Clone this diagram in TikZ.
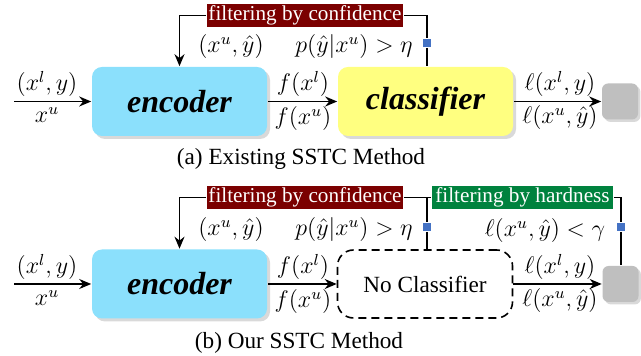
\documentclass[tikz,border=0pt]{standalone}
\usepackage{fontspec}
\setmainfont{Liberation Serif}
\usepackage{amsmath, amssymb}
\usepackage{tikz}
\usetikzlibrary{arrows.meta,calc,positioning,shadows}

\definecolor{encblue}{RGB}{139,224,252}
\definecolor{clsyellow}{RGB}{255,255,128}
\definecolor{tagred}{RGB}{123,0,0}
\definecolor{taggreen}{RGB}{0,130,62}
\definecolor{gateblue}{RGB}{68,114,196}
\definecolor{sinkgray}{RGB}{191,191,191}

\tikzset{
  block/.style={rounded corners=5pt, minimum width=87.5pt, minimum height=34.5pt,
    inner sep=0pt, drop shadow={opacity=0.3, shadow xshift=1.5pt, shadow yshift=-1.5pt}},
  encbox/.style={block, fill=encblue, font=\fontsize{16}{18}\selectfont\bfseries\itshape},
  clsbox/.style={block, fill=clsyellow, font=\fontsize{16}{18}\selectfont\bfseries\itshape},
  nocls/.style={rounded corners=8pt, draw, dash pattern=on 4pt off 2.5pt, line width=0.8pt,
    minimum width=87.5pt, minimum height=34pt, inner sep=0pt},
  sinkbox/.style={rounded corners=3pt, fill=sinkgray, minimum size=18pt, inner sep=0pt,
    drop shadow={opacity=0.3, shadow xshift=1.2pt, shadow yshift=-1.2pt}},
  tag/.style={text=white, inner sep=0pt, minimum height=11.5pt, font=\fontsize{10.6}{12}\selectfont},
  gate/.style={fill=gateblue, minimum size=4pt, inner sep=0pt},
  flow/.style={-{Stealth[length=6pt,width=5pt]}},
  lbl/.style={inner sep=0pt, font=\fontsize{12}{14}\selectfont},
}

\begin{document}
\begin{tikzpicture}[x=0.5pt, y=-0.5pt, line width=0.8pt]
\useasboundingbox (0,0) rectangle (641,356);

% (a) existing method
\node[encbox] (encA) at (179.5,101.5) {encoder};
\node[clsbox] (clsA) at (425.5,101.5) {classifier};
\node[sinkbox] (sinkA) at (620,101.5) {};
\coordinate (inA) at (14,101.5);
\node[tag, fill=tagred, minimum width=98pt] (confA) at (305,15.5) {filtering by confidence};
\node[gate] (gateA) at (427,43) {};

\draw[flow] (inA) -- (encA);
\draw[flow] (encA) -- (clsA);
\draw[flow] (clsA) -- (sinkA);
\draw[flow] (confA.west) -| (encA.north);
\draw (confA.east) -| (gateA);
\draw (gateA) -- (gateA |- clsA.north);

\node[lbl] (inA1) at (47,84) {$(x^{l},y)$};
\node[lbl] (inA2) at (47,115) {$x^{u}$};
\node[lbl] (fA1) at (303,84) {$f(x^{l})$};
\node[lbl] (fA2) at (303,119) {$f(x^{u})$};
\node[lbl] (lA1) at (560,84) {$\ell(x^{l},y)$};
\node[lbl] (lA2) at (560,118) {$\ell(x^{u},\hat{y})$};
\node[lbl] (pairA) at (231,47) {$(x^{u},\hat{y})$};
\node[lbl] (probA) at (354,47) {$p(\hat{y}|x^{u})>\eta$};
\node[lbl, font=\fontsize{11.6}{13}\selectfont] (capA) at (301,159) {(a) Existing SSTC Method};

% (b) our method
\node[encbox] (encB) at (179.5,284) {encoder};
\node[nocls, font=\fontsize{11.6}{13}\selectfont] (nocB) at (425,284) {No Classifier};
\node[sinkbox] (sinkB) at (620.5,284) {};
\coordinate (inB) at (14,284);
\node[tag, fill=tagred, minimum width=98pt] (confB) at (305,197.5) {filtering by confidence};
\node[tag, fill=taggreen, minimum width=90.5pt] (hardB) at (522.5,197.5) {filtering by hardness};
\node[gate] (gateB1) at (427,227) {};
\node[gate] (gateB2) at (621,227) {};

\draw[flow] (inB) -- (encB);
\draw[flow] (encB) -- (nocB);
\draw[flow] (nocB) -- (sinkB);
\draw[flow] (confB.west) -| (encB.north);
\draw (confB.east) -- (hardB.west);
\draw (gateB1 |- confB.east) -- (gateB1) -- (gateB1 |- nocB.north);
\draw (hardB.east) -| (gateB2) -- (gateB2 |- sinkB.north);

\node[lbl] (inB1) at (47,267) {$(x^{l},y)$};
\node[lbl] (inB2) at (47,298) {$x^{u}$};
\node[lbl] (fB1) at (303,267) {$f(x^{l})$};
\node[lbl] (fB2) at (303,302) {$f(x^{u})$};
\node[lbl] (lB1) at (560,267) {$\ell(x^{l},y)$};
\node[lbl] (lB2) at (560,301) {$\ell(x^{u},\hat{y})$};
\node[lbl] (pairB) at (231,230) {$(x^{u},\hat{y})$};
\node[lbl] (probB) at (354,230) {$p(\hat{y}|x^{u})>\eta$};
\node[lbl] (hardlB) at (545,231) {$\ell(x^{u},\hat{y})<\gamma$};
\node[lbl, font=\fontsize{11.6}{13}\selectfont] (capB) at (299,343) {(b) Our SSTC Method};
\end{tikzpicture}
\end{document}
